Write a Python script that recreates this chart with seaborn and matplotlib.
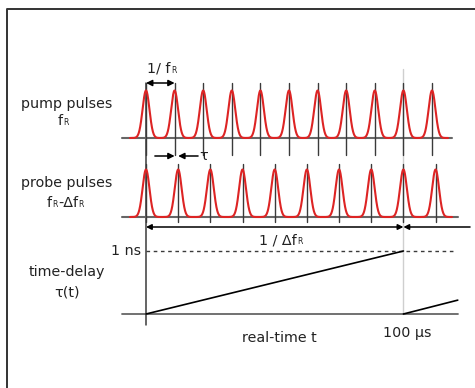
import numpy as np
import pandas as pd
import matplotlib.pyplot as plt
import seaborn as sns

# pulse arrival times, in units of the pump period 1/f_R
pump_times = [0, 1, 2, 3, 4, 5, 6, 7, 8, 9, 10]
probe_times = [0.0, 1.125, 2.25, 3.375, 4.5, 5.625, 6.75, 7.875, 9.0, 10.125]

# time-delay ramp (ns) against real time (same units)
ramp1_t = [0, 9]
ramp1_delay = [0.0, 1.0]
ramp2_t = [9, 10.9]
ramp2_delay = [0.0, 0.22]

scan_end = 9  # 100 us, where pump and probe coincide again

sns.set_theme(style="white")
plt.rcParams['font.family'] = ['DejaVu Sans']

fig = plt.figure(figsize=(4.75, 3.88), dpi=100)
ax = fig.add_axes([0, 0, 1, 1])
ax.set_xlim(-5.105, 11.503)
ax.set_ylim(388, 0)
ax.axis("off")

txt = "#222222"
dark = "#3a3a3a"
base = "#666666"
red = "#dd2424"
FS = 10.3

#row layout (pixel rows)
pump_base, probe_base, delay_base = 138, 217, 314
pulse_h = 47.5
sigma = 0.12
ns_px = 63

def px2t(px):
    return (px - 146) / 28.6

def pulse_train(times, t0, t1, y0):
    t = np.linspace(t0, t1, 3000)
    s = np.zeros_like(t)
    for c in times:
        s += np.exp(-0.5 * ((t - c) / sigma) ** 2)
    return pd.DataFrame({"t": t, "y": y0 - pulse_h * s})

def sub_label(left_px, y, parts):
    # parts: list of (text, is_subscript); small subscripts chained after the text
    first = ax.text(px2t(left_px), y, parts[0][0], ha="left", va="center",
                    fontsize=FS, color=txt)
    prev = first
    for s, is_sub in parts[1:]:
        if is_sub:
            prev = ax.annotate(s, xy=(1, 0), xycoords=prev, xytext=(0.3, 0.6),
                               textcoords="offset points", fontsize=5.5,
                               ha="left", va="bottom", color=txt)
        else:
            prev = ax.annotate(s, xy=(1, 0), xycoords=(prev, first), fontsize=FS,
                               ha="left", va="bottom", color=txt)

# reference lines
ax.plot([scan_end, scan_end], [69, delay_base], color="#cfcfcf", lw=1.0, zorder=1)
ax.plot([0, 0], [83, 325], color=dark, lw=1.1, zorder=2)

# pump row
ax.plot([-0.84, 10.7], [pump_base, pump_base], color=base, lw=1.5, zorder=2)
for c in pump_times:
    ax.plot([c, c], [83, 155], color=dark, lw=1.0, zorder=2)
sns.lineplot(data=pulse_train(pump_times, -0.56, 10.56, pump_base), x="t", y="y",
             ax=ax, color=red, lw=1.5, sort=False, estimator=None, zorder=3)

# probe row
ax.plot([-0.84, 10.91], [probe_base, probe_base], color=base, lw=1.5, zorder=2)
for c in probe_times:
    ax.plot([c, c], [164, 222], color=dark, lw=1.0, zorder=2)
sns.lineplot(data=pulse_train(probe_times, -0.56, 10.7, probe_base), x="t", y="y",
             ax=ax, color=red, lw=1.5, sort=False, estimator=None, zorder=3)

# 1/f_R arrow
ax.annotate("", xy=(pump_times[1], 83), xytext=(pump_times[0], 83),
            arrowprops=dict(arrowstyle="<|-|>", color="black", lw=1.1,
                            shrinkA=0, shrinkB=0, mutation_scale=9))
sub_label(147, 69, [("1/ f", False), ("R", True)])

# tau arrows
ax.annotate("", xy=(pump_times[1], 156), xytext=(0.31, 156),
            arrowprops=dict(arrowstyle="-|>", color="black", lw=1.1,
                            shrinkA=0, shrinkB=0, mutation_scale=9))
ax.annotate("", xy=(probe_times[1], 156), xytext=(1.82, 156),
            arrowprops=dict(arrowstyle="-|>", color="black", lw=1.1,
                            shrinkA=0, shrinkB=0, mutation_scale=9))
ax.text(1.86, 156, "τ", ha="left", va="center", fontsize=FS, color=txt)

# 1/delta f_R arrow
ax.annotate("", xy=(scan_end, 227), xytext=(0, 227),
            arrowprops=dict(arrowstyle="<|-|>", color="black", lw=1.1,
                            shrinkA=0, shrinkB=0, mutation_scale=8))
ax.annotate("", xy=(scan_end, 227), xytext=(11.33, 227),
            arrowprops=dict(arrowstyle="-|>", color="black", lw=1.1,
                            shrinkA=0, shrinkB=0, mutation_scale=8))
sub_label(259, 240, [("1 / Δf", False), ("R", True)])

# time-delay panel
ax.plot([-0.84, 10.91], [delay_base, delay_base], color=base, lw=1.3, zorder=2)
ax.plot([0, 10.73], [delay_base - ns_px, delay_base - ns_px], color=dark, lw=1.0,
        ls=(0, (2.6, 2.6)), zorder=2)
for tt, dd in [(ramp1_t, ramp1_delay), (ramp2_t, ramp2_delay)]:
    ramp = pd.DataFrame({"t": tt, "y": delay_base - ns_px * np.array(dd)})
    sns.lineplot(data=ramp, x="t", y="y", ax=ax, color="black", lw=1.2,
                 estimator=None, zorder=3)
ax.text(-0.17, delay_base - ns_px, "1 ns", ha="right", va="center",
        fontsize=FS, color=txt)
ax.text(4.68, 338, "real-time t", ha="center", va="center", fontsize=FS, color=txt)
ax.text(9.13, 333, "100 μs", ha="center", va="center", fontsize=FS, color=txt)

# row labels
ax.text(-2.76, 104, "pump pulses", ha="center", va="center", fontsize=FS, color=txt)
sub_label(58, 121, [("f", False), ("R", True)])
ax.text(-2.76, 183, "probe pulses", ha="center", va="center", fontsize=FS, color=txt)
sub_label(47, 203, [("f", False), ("R", True), ("-Δf", False), ("R", True)])
ax.text(-2.76, 272, "time-delay", ha="center", va="center", fontsize=FS, color=txt)
ax.text(-2.76, 292, "τ(t)", ha="center", va="center", fontsize=FS, color=txt)

# frame
fig.add_artist(plt.Line2D([6.5 / 475, 6.5 / 475, 1], [0, 1 - 8.5 / 388, 1 - 8.5 / 388],
                          transform=fig.transFigure, color="#333333", lw=1.4))

fig.savefig("out.png", dpi=100)
